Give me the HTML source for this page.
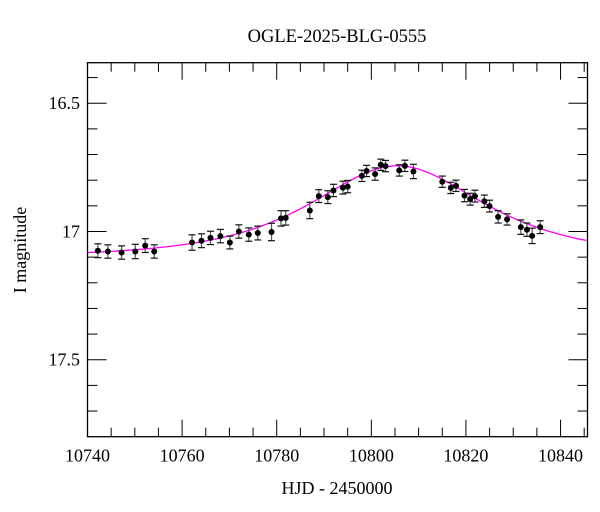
<!DOCTYPE html>
<html><head><meta charset="utf-8"><style>
html,body{margin:0;padding:0;background:#fff;}
svg{display:block;}
svg text{font-family:"Liberation Serif","DejaVu Serif",serif;}
</style></head><body>
<svg id="chart" width="600" height="512" viewBox="0 0 600 512" xmlns="http://www.w3.org/2000/svg">
<text x="337" y="42" font-size="18.5" text-anchor="middle">OGLE-2025-BLG-0555</text>
<text x="337" y="494" font-size="18" text-anchor="middle">HJD - 2450000</text>
<text x="0" y="0" font-size="18" text-anchor="middle" transform="translate(26,250) rotate(-90)">I magnitude</text>
<g id="ticks"></g>
<path id="model" fill="none" stroke="#ff00ff" stroke-width="1.3"/>
<g id="pts"></g>
<rect x="87.5" y="62.7" width="500" height="374" fill="none" stroke="#000" stroke-width="1.3"/>
</svg>
<script>
const hjd = [10742.2,10744.3,10747.2,10750.1,10752.2,10754.1,10762.1,10764.1,10766.0,10768.1,10770.1,10772.0,10774.1,10776.0,10778.9,10780.9,10781.9,10787.0,10788.9,10790.8,10792.0,10794.0,10795.0,10798.0,10799.0,10800.8,10802.0,10803.0,10805.9,10807.1,10808.9,10815.0,10816.8,10817.9,10819.7,10820.9,10821.9,10823.9,10825.0,10826.8,10828.7,10831.6,10832.9,10834.0,10835.7];
const mag = [17.075,17.078,17.082,17.078,17.055,17.078,17.043,17.036,17.025,17.018,17.043,17.000,17.012,17.006,17.002,16.949,16.947,16.918,16.862,16.866,16.840,16.829,16.825,16.783,16.764,16.776,16.740,16.745,16.762,16.744,16.766,16.806,16.830,16.822,16.860,16.874,16.862,16.882,16.901,16.943,16.953,16.983,16.993,17.017,16.983];
const err = [0.027,0.026,0.026,0.028,0.027,0.026,0.03,0.027,0.026,0.026,0.025,0.026,0.026,0.027,0.034,0.03,0.028,0.032,0.025,0.025,0.024,0.025,0.024,0.022,0.022,0.024,0.022,0.022,0.022,0.022,0.028,0.022,0.022,0.022,0.024,0.023,0.023,0.024,0.023,0.024,0.022,0.028,0.026,0.03,0.025];
const xMajor = [10740,10760,10780,10800,10820,10840];
const yMajor = [16.5,17,17.5];
const yMajorLabels = ["16.5","17","17.5"];
const model = {t0:10805.5, u0:0.94, tE:22.8, Ibase:17.10};

const X0=87.5, X1=587.5, Y0=62.7, Y1=436.7;
const xMin=10740, xMax=10845.7, yMin=16.342, yMax=17.8;
const sx = t => X0 + (t-xMin)/(xMax-xMin)*(X1-X0);
const sy = m => Y0 + (m-yMin)/(yMax-yMin)*(Y1-Y0);
const NS="http://www.w3.org/2000/svg";
function mk(tag, attrs, parent){const e=document.createElementNS(NS,tag);for(const k in attrs)e.setAttribute(k,attrs[k]);parent.appendChild(e);return e;}

const tg=document.getElementById('ticks');
for(let t=10740;t<=10845;t+=5){
  const major = xMajor.includes(t), len = major?17:9, x=sx(t);
  const a=mk('line',{x1:x,x2:x,y1:Y1,y2:Y1-len,stroke:'#000','stroke-width':1},tg);
  
  
  const b=mk('line',{x1:x,x2:x,y1:Y0,y2:Y0+len,stroke:'#000','stroke-width':1},tg);
  
  
}
xMajor.forEach(t=>{
  const l=mk('text',{x:sx(t),y:Y1+25,'font-size':18,'text-anchor':'middle'},tg);
  l.textContent=String(t);
  
  
});
for(let i=4;i<=17;i++){
  const m=16+i/10, y=sy(m), major=(i%5===0), len=major?19:10;
  const a=mk('line',{x1:X0,x2:X0+len,y1:y,y2:y,stroke:'#000','stroke-width':1},tg);
  
  
  const b=mk('line',{x1:X1,x2:X1-len,y1:y,y2:y,stroke:'#000','stroke-width':1},tg);
  
  
}
yMajor.forEach((m,i)=>{
  const l=mk('text',{x:80,y:sy(m)+6,'font-size':18,'text-anchor':'end'},tg);
  l.textContent=yMajorLabels[i];
  
  
});

function modelMag(t){
  const tau=(t-model.t0)/model.tE, u=Math.sqrt(tau*tau+model.u0*model.u0);
  const A=(u*u+2)/(u*Math.sqrt(u*u+4));
  return model.Ibase-2.5*Math.log10(A);
}
let d='';
for(let t=xMin;t<=xMax;t+=0.5){d+=(d?'L':'M')+sx(t).toFixed(2)+','+sy(modelMag(t)).toFixed(2);}
document.getElementById('model').setAttribute('d',d);

const pg=document.getElementById('pts');
hjd.forEach((t,i)=>{
  const x=sx(t), y=sy(mag[i]), yt=sy(mag[i]-err[i]), yb=sy(mag[i]+err[i]);
  const g=mk('g',{},pg);
  
  
  mk('line',{x1:x,x2:x,y1:yt,y2:yb,stroke:'#555','stroke-width':1.2},g);
  mk('line',{x1:x-3.5,x2:x+3.5,y1:yt,y2:yt,stroke:'#111','stroke-width':1.2},g);
  mk('line',{x1:x-3.5,x2:x+3.5,y1:yb,y2:yb,stroke:'#111','stroke-width':1.2},g);
  mk('circle',{cx:x,cy:y,r:3,fill:'#000'},g);
});
</script>
</body></html>
